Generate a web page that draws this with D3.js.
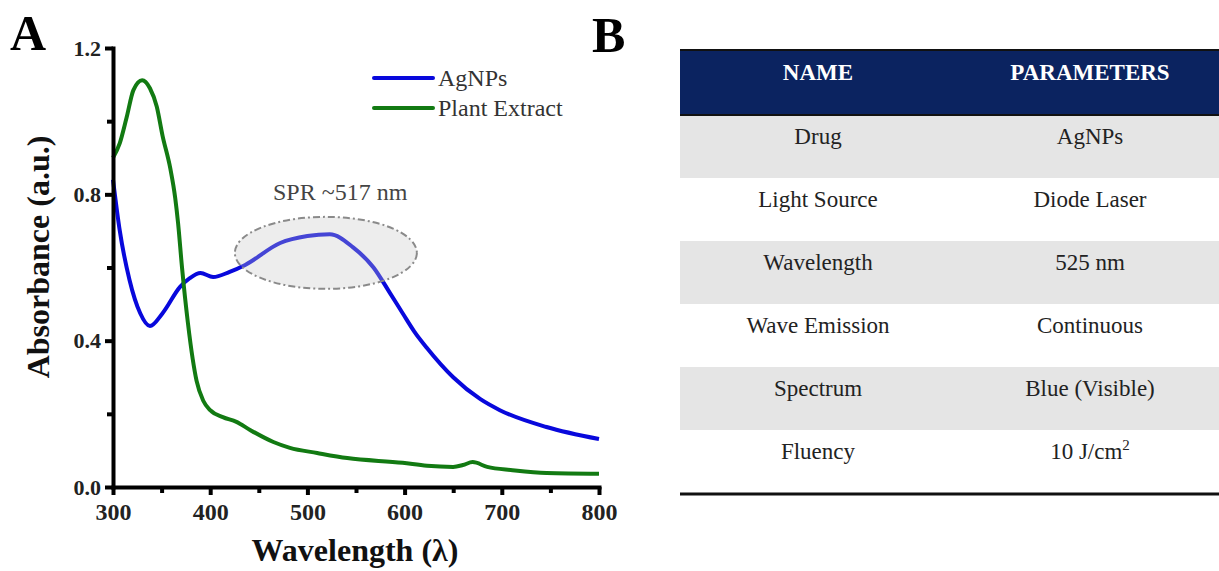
<!DOCTYPE html>
<html>
<head>
<meta charset="utf-8">
<script src="https://cdn.jsdelivr.net/npm/d3@7"></script>
<style>
  body { margin: 0; background: #fff; }
  svg { display: block; }
  svg text { font-family: "Liberation Serif", "Times New Roman", Times, "DejaVu Serif", serif; }
</style>
</head>
<body>
<svg width="1219" height="571"></svg>
<script>
// ---- data ----
var agWl  = [300, 307, 317, 328, 338, 351, 369, 379, 390, 403, 420, 436, 472, 500, 523, 547, 568, 585, 598, 610, 623, 650, 678, 698, 746, 800];
var agAbs = [0.84, 0.70, 0.566, 0.475, 0.44, 0.475, 0.547, 0.571, 0.585, 0.574, 0.588, 0.607, 0.667, 0.686, 0.691, 0.655, 0.600, 0.530, 0.475, 0.425, 0.380, 0.30, 0.240, 0.21, 0.164, 0.131];

var plWl  = [300, 307, 314, 321, 330, 338, 345, 351, 359, 364, 367, 371, 377, 382, 386, 393, 400, 413, 427, 441, 465, 482, 510, 541, 598, 623, 650, 660, 670, 685, 711, 746, 800];
var plAbs = [0.90, 0.94, 1.01, 1.085, 1.112, 1.09, 1.04, 0.96, 0.87, 0.79, 0.72, 0.60, 0.45, 0.35, 0.29, 0.235, 0.21, 0.191, 0.178, 0.156, 0.123, 0.107, 0.093, 0.079, 0.066, 0.058, 0.055, 0.06, 0.068, 0.055, 0.046, 0.038, 0.036];

var seriesNames  = ["AgNPs", "Plant Extract"];
var xTicks       = [300, 400, 500, 600, 700, 800];
var xMinorTicks  = [350, 450, 550, 650, 750];
var yTicks       = [0.0, 0.4, 0.8, 1.2];
var yMinorTicks  = [0.2, 0.6, 1.0];

var tableHead = ["NAME", "PARAMETERS"];
var tableNames  = ["Drug", "Light Source", "Wavelength", "Wave Emission", "Spectrum", "Fluency"];
var tableParams = ["AgNPs", "Diode Laser", "525 nm", "Continuous", "Blue (Visible)", "10 J/cm"];

var svg = d3.select("svg");
var colors = ["#0808dc", "#127a12"];
var serif = '"Liberation Serif", "Times New Roman", Times, "DejaVu Serif", serif';

// ---- panel A ----
var x = d3.scaleLinear().domain([300, 800]).range([113, 599]);
var y = d3.scaleLinear().domain([0, 1.2]).range([487, 48]);

var line = d3.line()
    .x(function(d) { return x(d[0]); })
    .y(function(d) { return y(d[1]); })
    .curve(d3.curveMonotoneX);

var series = [d3.zip(agWl, agAbs), d3.zip(plWl, plAbs)];

series.forEach(function(s, i) {
    svg.append("path")
        .datum(s)
        .attr("fill", "none")
        .attr("stroke", colors[i])
        .attr("stroke-width", 4)
        .attr("stroke-linejoin", "round")
        .attr("d", line);
});

// SPR highlight drawn over the curve (semi transparent)
svg.append("ellipse")
    .attr("cx", x(519)).attr("cy", y(0.64))
    .attr("rx", 91).attr("ry", 36)
    .attr("fill", "#c8c8c8").attr("fill-opacity", 0.32)
    .attr("stroke", "#8a8a8a").attr("stroke-width", 2)
    .attr("stroke-dasharray", "7,3,2,3");

svg.append("text")
    .attr("x", 273).attr("y", 200)
    .attr("font-size", 24).attr("fill", "#444")
    .text("SPR ~517 nm");

// axes
var xAxis = svg.append("g")
    .attr("transform", "translate(0," + y(0) + ")")
    .call(d3.axisBottom(x).tickValues(xTicks).tickSize(8).tickPadding(8).tickSizeOuter(0));
svg.append("g")
    .attr("transform", "translate(0," + y(0) + ")")
    .call(d3.axisBottom(x).tickValues(xMinorTicks).tickSize(6).tickFormat(""))
    .select(".domain").remove();

var yAxis = svg.append("g")
    .attr("transform", "translate(" + x(300) + ",0)")
    .call(d3.axisLeft(y).tickValues(yTicks).tickFormat(d3.format(".1f")).tickSize(8).tickPadding(4).tickSizeOuter(0));
svg.append("g")
    .attr("transform", "translate(" + x(300) + ",0)")
    .call(d3.axisLeft(y).tickValues(yMinorTicks).tickSize(6).tickFormat(""))
    .select(".domain").remove();

svg.selectAll(".domain").attr("stroke", "#000").attr("stroke-width", 4).attr("stroke-linecap", "square");
svg.selectAll(".tick line").attr("stroke", "#000").attr("stroke-width", 4);
svg.selectAll("g").attr("font-family", serif);
xAxis.selectAll(".tick text")
    .attr("font-weight", "bold")
    .attr("font-size", 24).attr("fill", "#222");
yAxis.selectAll(".tick text")
    .attr("font-weight", "bold")
    .attr("font-size", 22).attr("fill", "#222");

svg.append("text")
    .attr("x", 355).attr("y", 561)
    .attr("text-anchor", "middle")
    .attr("font-size", 32).attr("font-weight", "bold").attr("fill", "#111")
    .text("Wavelength (λ)");

svg.append("text")
    .attr("transform", "translate(49,257) rotate(-90)")
    .attr("text-anchor", "middle")
    .attr("font-size", 32).attr("font-weight", "bold").attr("fill", "#111")
    .text("Absorbance (a.u.)");

// legend
seriesNames.forEach(function(name, i) {
    var g = svg.append("g").attr("transform", "translate(374," + (78 + i * 30) + ")");
    g.append("line")
        .attr("x1", 0).attr("x2", 59)
        .attr("stroke", colors[i]).attr("stroke-width", 4).attr("stroke-linecap", "round");
    g.append("text")
        .attr("x", 64).attr("y", 8)
        .attr("font-size", 24).attr("fill", "#333")
        .text(name);
});

svg.append("text")
    .attr("x", 10).attr("y", 50)
    .attr("font-size", 50).attr("font-weight", "bold")
    .text("A");

// ---- panel B ----
svg.append("text")
    .attr("x", 592).attr("y", 52)
    .attr("font-size", 50).attr("font-weight", "bold")
    .text("B");

var tLeft = 680, tRight = 1219, headTop = 50, headH = 65, rowH = 63;
var colX = [818, 1090];

svg.append("rect")
    .attr("x", tLeft).attr("y", headTop)
    .attr("width", tRight - tLeft).attr("height", headH)
    .attr("fill", "#0b2360");

var rowY = d3.scaleBand().domain(d3.range(tableNames.length))
    .range([headTop + headH, headTop + headH + rowH * tableNames.length]);

svg.selectAll(".row")
    .data(tableNames)
    .enter().append("rect")
    .attr("x", tLeft).attr("y", function(d, i) { return rowY(i); })
    .attr("width", tRight - tLeft).attr("height", rowY.bandwidth())
    .attr("fill", function(d, i) { return i % 2 === 0 ? "#e5e5e5" : "#fff"; });

svg.append("line").attr("x1", tLeft).attr("x2", tRight).attr("y1", headTop).attr("y2", headTop)
    .attr("stroke", "#111").attr("stroke-width", 2);
svg.append("line").attr("x1", tLeft).attr("x2", tRight).attr("y1", headTop + headH).attr("y2", headTop + headH)
    .attr("stroke", "#111").attr("stroke-width", 2);
svg.append("line").attr("x1", tLeft).attr("x2", tRight)
    .attr("y1", rowY.range()[1] + 1).attr("y2", rowY.range()[1] + 1)
    .attr("stroke", "#111").attr("stroke-width", 3);

tableHead.forEach(function(h, j) {
    svg.append("text")
        .attr("x", colX[j]).attr("y", headTop + 30)
        .attr("text-anchor", "middle")
        .attr("font-size", 23).attr("font-weight", "bold").attr("fill", "#fff")
        .text(h);
});

tableNames.forEach(function(n, i) {
    svg.append("text")
        .attr("x", colX[0]).attr("y", rowY(i) + 29)
        .attr("text-anchor", "middle")
        .attr("font-size", 23).attr("fill", "#222")
        .text(n);
    var t = svg.append("text")
        .attr("x", colX[1]).attr("y", rowY(i) + 29)
        .attr("text-anchor", "middle")
        .attr("font-size", 23).attr("fill", "#222")
        .text(tableParams[i]);
    if (n === "Fluency") {
        t.append("tspan").attr("dy", -9).attr("font-size", 15).text("2");
    }
});
</script>
</body>
</html>
